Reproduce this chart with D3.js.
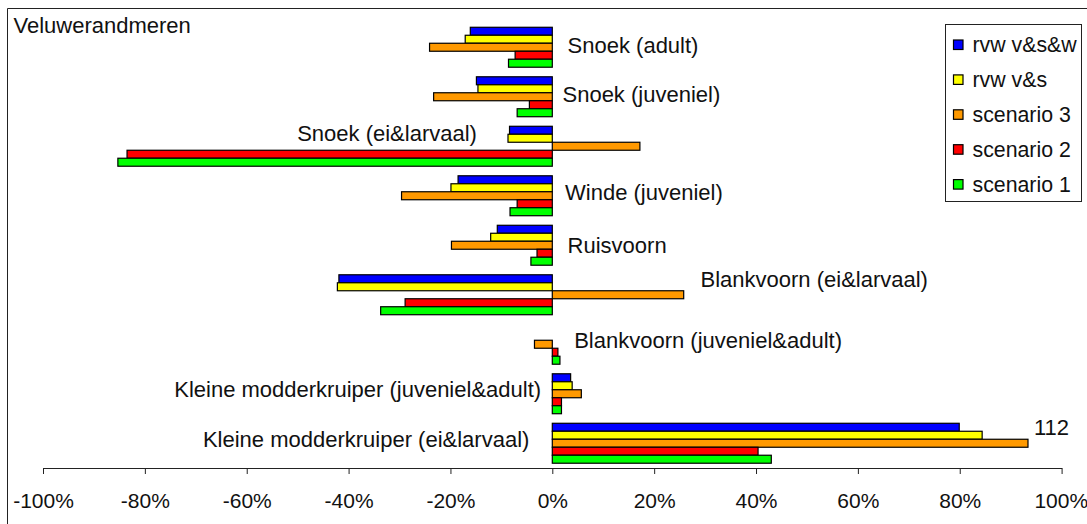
<!DOCTYPE html>
<html>
<head>
<meta charset="utf-8">
<script src="https://cdn.jsdelivr.net/npm/d3@7"></script>
<style>
  html, body { margin: 0; padding: 0; background: #fff; }
  svg { display: block; font-family: "Liberation Sans", Arial, sans-serif; }
</style>
</head>
<body>
<svg id="chart" width="1087" height="524"></svg>
<script>
// ---- data (relative change, %) ----
const title = "Veluwerandmeren";
const categories = [
  "Snoek (adult)",
  "Snoek (juveniel)",
  "Snoek (ei&larvaal)",
  "Winde (juveniel)",
  "Ruisvoorn",
  "Blankvoorn (ei&larvaal)",
  "Blankvoorn (juveniel&adult)",
  "Kleine modderkruiper (juveniel&adult)",
  "Kleine modderkruiper (ei&larvaal)"
];
const seriesNames = ["rvw v&s&w", "rvw v&s", "scenario 3", "scenario 2", "scenario 1"];
const rvwVSW    = [-16.1, -14.9,  -8.4, -18.5, -10.8, -41.9,  0.0, 3.6, 79.9];
const rvwVS     = [-17.1, -14.6,  -8.7, -19.9, -12.1, -42.2,  0.0, 3.9, 84.4];
const scenario3 = [-24.1, -23.3,  17.2, -29.6, -19.8,  25.8, -3.5, 5.7, 112];
const scenario2 = [ -7.3,  -4.5, -83.5,  -6.9,  -3.0, -28.9,  1.1, 1.8, 40.4];
const scenario1 = [ -8.6,  -6.9, -85.3,  -8.3,  -4.2, -33.7,  1.5, 1.8, 43.0];
const xTicks = [-100, -80, -60, -40, -20, 0, 20, 40, 60, 80, 100];

const seriesValues = [rvwVSW, rvwVS, scenario3, scenario2, scenario1];

// ---- styling / layout ----
const colors = ["#0000ff", "#ffff00", "#ff9900", "#ff0000", "#00ff00"];
const fontSize = 22;
const tickFontSize = 21;
const legendFontSize = 21.3;
// bars longer than this are cut short and get their value written next to them
const barCap = 93.4;
// where each category name sits: x in axis units, anchor, baseline offset from the group's top
const labelPlacement = [
  { at:   3.0, anchor: "start", dy: 25.4 },
  { at:   2.0, anchor: "start", dy: 24.8 },
  { at: -14.8, anchor: "end",   dy: 15.2 },
  { at:   2.5, anchor: "start", dy: 23.9 },
  { at:   3.0, anchor: "start", dy: 27.6 },
  { at:  29.1, anchor: "start", dy: 12.7 },
  { at:   4.3, anchor: "start", dy: 23.6 },
  { at:  -2.2, anchor: "end",   dy: 22.8 },
  { at:  -4.5, anchor: "end",   dy: 23.6 }
];

const svg = d3.select("#chart");

const x = d3.scaleLinear().domain([-100, 100]).range([43, 1061.6]);
const y = d3.scaleBand().domain(categories).range([22.5, 468])
  .paddingInner(0.193).paddingOuter(0.0965);
const sub = d3.scaleBand().domain(seriesNames).range([0, y.bandwidth()]);

// chart frame (left and top edges)
svg.append("path")
  .attr("d", "M7.5,524 V8.5 H1087")
  .attr("fill", "none").attr("stroke", "#222").attr("stroke-width", 1);

// title
svg.append("text")
  .attr("x", 13.5).attr("y", 33)
  .attr("font-size", fontSize).attr("fill", "#111")
  .text(title);

// bars
const rows = [];
categories.forEach((c, ci) => {
  seriesNames.forEach((s, si) => {
    rows.push({ cat: c, series: s, si, value: seriesValues[si][ci] });
  });
});

svg.append("g").selectAll("rect")
  .data(rows.filter(d => d.value !== 0))
  .join("rect")
  .attr("x", d => x(Math.min(0, Math.min(d.value, barCap))))
  .attr("y", d => y(d.cat) + sub(d.series))
  .attr("width", d => Math.abs(x(Math.min(d.value, barCap)) - x(0)))
  .attr("height", sub.bandwidth())
  .attr("fill", d => colors[d.si])
  .attr("stroke", "#000")
  .attr("stroke-width", 1.2);

// value written beside a cut-short bar
svg.append("g").selectAll("text")
  .data(rows.filter(d => d.value > barCap))
  .join("text")
  .attr("x", d => x(barCap) + 6)
  .attr("y", d => y(d.cat) + 12)
  .attr("font-size", fontSize).attr("fill", "#111")
  .text(d => d3.format("d")(d.value));

// category names
svg.append("g").selectAll("text")
  .data(categories)
  .join("text")
  .attr("x", (d, i) => x(labelPlacement[i].at))
  .attr("y", (d, i) => y(d) + labelPlacement[i].dy)
  .attr("text-anchor", (d, i) => labelPlacement[i].anchor)
  .attr("font-size", fontSize).attr("fill", "#111")
  .text(d => d);

// value axis
const axisY = 468;
const axis = svg.append("g")
  .attr("transform", `translate(0,${axisY})`)
  .call(d3.axisBottom(x)
    .tickValues(xTicks)
    .tickSize(6)
    .tickSizeOuter(0)
    .tickPadding(19)
    .tickFormat(d => d + "%"));
axis.select(".domain").attr("stroke", "#222");
axis.selectAll(".tick line").attr("stroke", "#222");
axis.selectAll(".tick text")
  .attr("font-size", tickFontSize)
  .attr("font-family", "'Liberation Sans', Arial, sans-serif")
  .attr("fill", "#111");
// keep the outermost label inside the page edge
axis.selectAll(".tick text").filter(d => d === xTicks[xTicks.length - 1])
  .attr("text-anchor", "end").attr("dx", 26);

// legend
const legend = svg.append("g");
legend.append("rect")
  .attr("x", 945.5).attr("y", 24.5).attr("width", 136).attr("height", 177)
  .attr("fill", "#fff").attr("stroke", "#222").attr("stroke-width", 1);
const item = legend.selectAll("g.item")
  .data(seriesNames)
  .join("g").attr("class", "item")
  .attr("transform", (d, i) => `translate(0,${44.7 + i * 34.9})`);
item.append("rect")
  .attr("x", 953.5).attr("y", -4.7).attr("width", 9.5).attr("height", 9.5)
  .attr("fill", (d, i) => colors[i]).attr("stroke", "#000").attr("stroke-width", 1.2);
item.append("text")
  .attr("x", 972.5).attr("y", 7.5)
  .attr("font-size", legendFontSize).attr("fill", "#111")
  .text(d => d);
</script>
</body>
</html>
